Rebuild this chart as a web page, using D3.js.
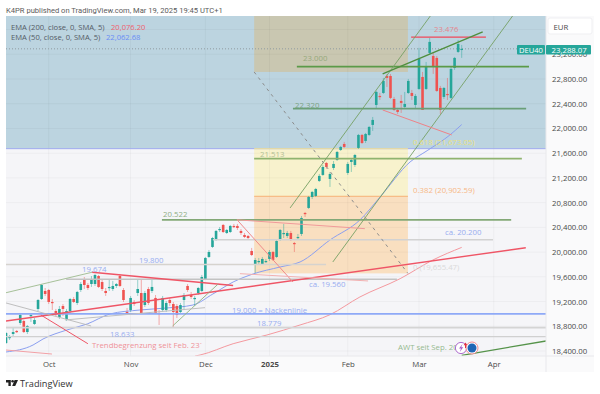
<!DOCTYPE html>
<html>
<head>
<meta charset="utf-8">
<script src="https://cdn.jsdelivr.net/npm/d3@7"></script>
<style>
html, body { margin: 0; padding: 0; background: #fff; }
text { font-family: "Open Sans", Roboto, sans-serif; }
</style>
</head>
<body>
<div id="chart"></div>
<script>
// candles, Sep 13 2024 to Mar 19 2025 (EUR)
var opens = [
  18529,18610,18675,18724,18853,18885,18707,18966,18837,19080,
  19241,19371,19387,19193,19047,18950,19128,18918,19047,19241,
  19177,19387,19549,19468,19484,19484,19613,19516,19371,19419,
  19403,19452,19613,19387,19031,19063,19193,19338,19338,19144,
  19403,19371,19258,19015,19063,19063,19225,19160,19128,19031,
  19225,19452,19306,19241,19338,19371,19565,19921,20083,20212,
  20358,20439,20309,20325,20423,20423,20342,20277,20261,20018,
  19808,19840,19808,19840,19889,20002,19921,20196,20293,20261,
  20309,20147,20228,20293,20633,20714,20892,20908,21151,21248,
  21442,21183,21361,21490,21652,21749,21280,21458,21409,21685,
  21895,21798,21895,22057,22380,22526,22574,22849,22849,22477,
  22299,22445,22348,22574,22574,22380,22639,22833,22639,23222,
  23173,23141,22655,22510,22558,22494,22979,23238,23270];
var highs = [
  18707,18659,18788,18740,19015,18902,18821,19015,18934,19241,
  19484,19419,19403,19241,19080,19128,19160,19080,19258,19274,
  19371,19516,19597,19500,19613,19646,19630,19565,19419,19549,
  19533,19500,19646,19419,19096,19290,19225,19549,19549,19371,
  19436,19549,19306,19063,19290,19209,19258,19193,19160,19177,
  19338,19484,19355,19290,19436,19630,19921,20034,20245,20358,
  20406,20455,20374,20439,20455,20455,20374,20309,20277,20067,
  19905,19905,19921,19889,20034,20018,20196,20374,20455,20342,
  20342,20164,20293,20584,20649,20908,20989,21038,21264,21409,
  21458,21296,21474,21636,21717,21782,21458,21506,21587,21911,
  21911,21927,22040,22186,22607,22574,22817,22881,22881,22510,
  22332,22542,22591,22801,22623,22558,23303,22914,23076,23465,
  23222,23173,22688,22671,22817,22995,23157,23432,23351];
var lows = [
  18513,18578,18643,18691,18821,18691,18675,18869,18821,19047,
  19225,19290,19160,19063,18966,18918,18966,18885,19015,19177,
  19144,19355,19403,19387,19436,19452,19419,19371,19290,19371,
  19371,19419,19436,19193,18982,19031,19128,19290,18999,19112,
  19144,19338,18999,18821,19031,19031,19128,18788,18934,18999,
  19063,19355,19241,19128,19306,19355,19549,19905,20067,20180,
  20325,20309,20293,20309,20390,20358,20277,20228,20212,19937,
  19662,19808,19791,19824,19856,19856,19905,20180,20228,20228,
  20180,20002,20196,20261,20568,20698,20859,20892,21134,21232,
  21345,21054,21329,21474,21636,21685,21248,21296,21377,21668,
  21749,21765,21879,21960,22316,22461,22558,22671,22477,22283,
  22234,22251,22332,22558,22461,22316,22623,22299,22623,23190,
  22882,22591,22235,22477,22461,22477,22947,23222,23141];
var closes = [
  18691,18627,18707,18707,18982,18707,18805,18982,18902,19225,
  19468,19322,19193,19177,18982,19080,19080,19047,19241,19193,
  19355,19484,19468,19419,19565,19630,19436,19403,19338,19436,
  19452,19484,19452,19225,19015,19258,19160,19403,19015,19338,
  19177,19436,19015,18999,19258,19177,19177,19031,18982,19144,
  19306,19387,19274,19258,19419,19597,19905,20002,20228,20342,
  20374,20325,20358,20423,20406,20390,20309,20245,20228,19953,
  19872,19856,19889,19856,20002,19872,20180,20358,20309,20309,
  20196,20131,20245,20552,20617,20892,20973,21021,21232,21377,
  21377,21264,21426,21620,21701,21701,21426,21490,21571,21895,
  21765,21911,22024,22138,22591,22510,22769,22817,22494,22299,
  22267,22413,22396,22769,22526,22526,23125,22299,22995,23400,
  22995,22607,22299,22655,22542,22963,23141,23367,23288.07];

// moving averages, sparse points [candle number, price]
var ema50 = [[0,18384],[7.6,18497],[10.4,18594],[17.1,18740],[22.8,18837],[29.2,18999],[37.6,19063],
  [45.2,19096],[52.5,19144],[58.1,19322],[63.8,19516],[69.4,19646],[77,19759],[82.6,19840],[91,20196],
  [99.4,20519],[105.1,20892],[113.5,21458],[118.3,21641],[124.7,21895],[128,22062.68]];
var ema200 = [[53.1,18319],[54.5,18335],[63.8,18518],[73.3,18659],[82.6,18821],[91,18987],
  [99.4,19274],[110.7,19570],[119.9,19872],[128,20076.2]];

// horizontal drawings
var levelNames = ["l23000","l22320","l21513","l20522","l23476","l20200","l19800","l19560","l19000","l18779","l18633"];
var levelPrices = [23000,22320,21513,20522,23476,20200,19800,19560,19000,18779,18633];
var levelFrom = [81.7,80.6,69.7,43.8,113.8,58.1,0,16.9,0,0,0];
var levelTo = [146.9,146.1,144.9,141.9,134.8,136.8,89.9,109.8,151.7,151.7,151.7];

// sloped drawings [candle number, price]
var trendNames = ["channelA","channelB","wedge","redBelow","trendRed","redTop","greenLeft","greyLeft","pointer",
  "paleLeft","greenHammer","greyMid","redDiag","paleA","paleB","fibDash","awt"];
var trendFrom = [[79.8,20714],[91.8,19840],[105.8,22882],[105.8,22299],[0,18885],[24.2,19674],[0,19343],[0,19177],[9.8,18982],
  [0,18416],[46.8,18805],[16.6,18902],[64.9,20522],[64.9,20522],[65.7,19651],[69.7,22914],[128,18330]];
var trendTo = [[119.2,23820],[142.3,23820],[133.9,23561],[125.2,21895],[146,20071],[63.8,19460],[24.2,19674],[23.9,18805],[23,18518],
  [12.9,18351],[59.6,19484],[55.9,19101],[80.6,19516],[100.8,20379],[101.7,19533],[112.9,19655],[151.7,18562]];

var fibLevels = [22914,21673.05,20902.59,19655.47];
var fibFrom = 69.7, fibTo = 112.9;

var priceTicks = [18400,18800,19200,19600,20000,20400,20800,21200,21600,22000,22400,22800,23200,23600];
var timeTicks = [12,35,56,74,96,116,137];
var timeLabels = ["Oct","Nov","Dec","2025","Feb","Mar","Apr"];
var lastPrice = 23288.07;

var levelColor = {l23000:"#5b9a48",l22320:"#6a9f78",l21513:"#8fb36f",l20522:"#83a877",l23476:"#f0485a",
  l20200:"#d2d2d2",l19800:"#d6d3ce",l19560:"#c3c3c3",l19000:"#8ea9f7",l18779:"#d4d4d4",l18633:"#d0d0d0"};
var levelWidth = {l23000:1.6,l22320:1.6,l21513:1.8,l20522:1.8,l23476:1.2,l20200:1.5,l19800:1.5,l19560:1.5,l19000:1.6,l18779:1.8,l18633:1.3};
var trendStyle = {
  channelA:["#76a064",0.9], channelB:["#76a064",0.9], wedge:["#4f8f3e",1.4], redBelow:["#ee8288",1],
  trendRed:["#ef5566",1.4], redTop:["#ef5566",1.4], greenLeft:["#9dba8d",0.9], greyLeft:["#b8b8b8",0.9],
  pointer:["#ef5566",1], paleLeft:["#f2a0a5",1], greenHammer:["#8fb37f",0.9], greyMid:["#c0c0c0",1],
  redDiag:["#f08a8a",1], paleA:["#f09a9a",1], paleB:["#f2b0b0",1], fibDash:["#8c8c8c",1], awt:["#55934a",1.3]
};

var width = 600, height = 394;
var plot = {left: 6, right: 546, top: 16, bottom: 356};

var svg = d3.select("#chart").append("svg")
    .attr("width", width).attr("height", height)
    .style("display", "block");

var x = d3.scaleLinear().domain([0, 128]).range([6, 461.7]);
var y = d3.scaleLinear().domain([18400, 22800]).range([351, 79]);

svg.append("defs").append("clipPath").attr("id", "plotClip").append("rect")
    .attr("x", plot.left).attr("y", plot.top)
    .attr("width", plot.right - plot.left).attr("height", plot.bottom - plot.top);

// title
svg.append("text").attr("x", 6).attr("y", 13)
    .attr("font-size", 7.6).attr("fill", "#5b5b5b")
    .style("font-family", "Roboto, sans-serif")
    .text("K4PR published on TradingView.com, Mar 19, 2025 19:45 UTC+1");

// panes
svg.append("rect").attr("x", plot.left).attr("y", plot.top)
    .attr("width", 588).attr("height", 356).attr("fill", "#f5f5f8");
svg.append("rect").attr("x", plot.right).attr("y", plot.top)
    .attr("width", 48).attr("height", 356).attr("fill", "#fafafb");
svg.append("rect").attr("x", plot.left).attr("y", plot.bottom)
    .attr("width", 588).attr("height", 16).attr("fill", "#fafafb");

var chart = svg.append("g").attr("clip-path", "url(#plotClip)");

// zones
chart.append("rect").attr("x", plot.left).attr("y", plot.top)
    .attr("width", plot.right - plot.left).attr("height", y(fibLevels[1]) - plot.top)
    .attr("fill", "#bcd4e0");
chart.append("rect").attr("x", x(fibFrom)).attr("y", plot.top)
    .attr("width", x(fibTo) - x(fibFrom)).attr("height", y(fibLevels[0]) - plot.top)
    .attr("fill", "#c9c7b1");
chart.append("rect").attr("x", x(fibFrom)).attr("y", y(fibLevels[1]))
    .attr("width", x(fibTo) - x(fibFrom)).attr("height", y(fibLevels[2]) - y(fibLevels[1]))
    .attr("fill", "#f8f2cd");
chart.append("rect").attr("x", x(fibFrom)).attr("y", y(fibLevels[2]))
    .attr("width", x(fibTo) - x(fibFrom)).attr("height", y(fibLevels[3]) - y(fibLevels[2]))
    .attr("fill", "#f9dfc0");

// grid
chart.selectAll("line.gh").data(priceTicks).enter().append("line")
    .attr("x1", plot.left).attr("x2", plot.right)
    .attr("y1", function(d){ return y(d); }).attr("y2", function(d){ return y(d); })
    .attr("stroke", "#000").attr("stroke-opacity", 0.035);
chart.selectAll("line.gv").data(timeTicks).enter().append("line")
    .attr("x1", function(d){ return x(d); }).attr("x2", function(d){ return x(d); })
    .attr("y1", plot.top).attr("y2", plot.bottom)
    .attr("stroke", "#000").attr("stroke-opacity", 0.035);

// fib borders
chart.append("line").attr("x1", plot.left).attr("x2", plot.right)
    .attr("y1", y(fibLevels[1])).attr("y2", y(fibLevels[1]))
    .attr("stroke", "#9fabef").attr("stroke-width", 1);
chart.append("line").attr("x1", x(fibFrom)).attr("x2", x(fibTo))
    .attr("y1", y(fibLevels[1])).attr("y2", y(fibLevels[1]))
    .attr("stroke", "#ecdf9b").attr("stroke-width", 1);
chart.append("line").attr("x1", x(fibFrom)).attr("x2", x(fibTo))
    .attr("y1", y(fibLevels[2])).attr("y2", y(fibLevels[2]))
    .attr("stroke", "#f6b175").attr("stroke-width", 1);

// last price dotted line
chart.append("line").attr("x1", plot.left).attr("x2", plot.right)
    .attr("y1", y(lastPrice)).attr("y2", y(lastPrice))
    .attr("stroke", "#8f9aa0").attr("stroke-dasharray", "1,2");

// emas
var emaLine = d3.line()
    .x(function(d){ return x(d[0]); })
    .y(function(d){ return y(d[1]); })
    .curve(d3.curveMonotoneX);
chart.append("path").attr("d", emaLine(ema200)).attr("fill", "none")
    .attr("stroke", "#f4999f").attr("stroke-width", 1);
chart.append("path").attr("d", emaLine(ema50)).attr("fill", "none")
    .attr("stroke", "#8b9ff0").attr("stroke-width", 1);

// candles
var candles = chart.selectAll("g.candle").data(opens).enter().append("g");
function candleColor(d, i) { return closes[i] >= opens[i] ? "#26a69a" : "#ef5350"; }
candles.append("line")
    .attr("x1", function(d, i){ return x(i); }).attr("x2", function(d, i){ return x(i); })
    .attr("y1", function(d, i){ return y(highs[i]); }).attr("y2", function(d, i){ return y(lows[i]); })
    .attr("stroke", candleColor).attr("stroke-opacity", 0.6).attr("stroke-width", 0.8);
candles.append("rect")
    .attr("x", function(d, i){ return x(i) - 1.3; })
    .attr("width", 2.6)
    .attr("y", function(d, i){ return y(Math.max(opens[i], closes[i])); })
    .attr("height", function(d, i){ return Math.max(1.2, Math.abs(y(opens[i]) - y(closes[i]))); })
    .attr("fill", candleColor);

// drawings
chart.selectAll("line.level").data(levelNames).enter().append("line")
    .attr("x1", function(d, i){ return x(levelFrom[i]); })
    .attr("x2", function(d, i){ return x(levelTo[i]); })
    .attr("y1", function(d, i){ return y(levelPrices[i]); })
    .attr("y2", function(d, i){ return y(levelPrices[i]); })
    .attr("stroke", function(d){ return levelColor[d]; })
    .attr("stroke-width", function(d){ return levelWidth[d]; });

chart.selectAll("line.trend").data(trendNames).enter().append("line")
    .attr("x1", function(d, i){ return x(trendFrom[i][0]); })
    .attr("y1", function(d, i){ return y(trendFrom[i][1]); })
    .attr("x2", function(d, i){ return x(trendTo[i][0]); })
    .attr("y2", function(d, i){ return y(trendTo[i][1]); })
    .attr("stroke", function(d){ return trendStyle[d][0]; })
    .attr("stroke-width", function(d){ return trendStyle[d][1]; })
    .attr("stroke-dasharray", function(d){ return d == "fibDash" ? "3,4" : null; });

// labels on the chart
var labels = [
  ["23.000", 303, 60.5, "#96a97c"], ["22.320", 295, 107.5, "#7ba384"], ["21.513", 260, 156.5, "#b2c094"],
  ["20.522", 163, 216.5, "#8fae85"], ["23.476", 434, 31.5, "#e5868f"], ["19.800", 139, 262.5, "#98adf0"],
  ["19.674", 82, 271.5, "#98adf0"], ["18.633", 110, 336.5, "#98adf0"], ["18.779", 257, 326, "#98adf0"],
  ["ca. 20.200", 445, 235, "#98adf0"], ["ca. 19.560", 309, 287, "#98adf0"],
  ["19.000 = Nackenlinie", 232, 312.5, "#98adf0"], ["Trendbegrenzung seit Feb. 23´", 92, 347.5, "#ef9298"],
  ["AWT seit Sep. 20", 398, 349.5, "#96ba8f"],
  ["0.618 (21,673.05)", 413, 145, "#ebe27c"], ["0.382 (20,902.59)", 413, 193, "#f7b885"], ["0 (19,655.47)", 413, 270, "#dadada"]
];
svg.selectAll("text.lab").data(labels).enter().append("text")
    .attr("x", function(d){ return d[1]; }).attr("y", function(d){ return d[2]; })
    .attr("fill", function(d){ return d[3]; })
    .attr("font-size", 7.8)
    .text(function(d){ return d[0]; });

// event badges
svg.append("circle").attr("cx", 461).attr("cy", 348).attr("r", 5.6)
    .attr("fill", "#fff").attr("stroke", "#a65cc8").attr("stroke-width", 0.9);
svg.append("path").attr("d", "M462.5 344L459 348.6H461L459.8 352L463.2 347.2H461.2Z").attr("fill", "#a65cc8");
svg.append("circle").attr("cx", 472).attr("cy", 348).attr("r", 6)
    .attr("fill", "#fff").attr("stroke", "#ef7f85").attr("stroke-width", 0.9);
svg.append("circle").attr("cx", 472).attr("cy", 348).attr("r", 4.5).attr("fill", "#1f66b5");
svg.append("path").attr("d", "M465.5 342.5L463.6 345.2H465V348H466V345.2H467.4Z").attr("fill", "#e2323f");

// legend
var legendRows = [["EMA (200, close, 0, SMA, 5)", "20,076.20", "#f0606e", 111, 30],
                  ["EMA (50, close, 0, SMA, 5)", "22,062.68", "#6a8df5", 106, 40]];
legendRows.forEach(function(r) {
  svg.append("text").attr("x", 11).attr("y", r[4]).attr("font-size", 7.6).attr("fill", "#555c66").text(r[0]);
  svg.append("text").attr("x", r[3]).attr("y", r[4]).attr("font-size", 7.6).attr("fill", r[2]).text(r[1]);
});

// price axis, the top tick sits behind the currency box so it gets no label
var priceAxis = d3.axisRight(y).tickValues(priceTicks.slice(0, -1)).tickSize(0).tickPadding(6)
    .tickFormat(d3.format(",.2f"));
var pa = svg.append("g").attr("transform", "translate(" + plot.right + ",0)").call(priceAxis);
pa.select(".domain").remove();
pa.selectAll("text").attr("font-size", 7.8).attr("fill", "#4a4a4a")
    .style("font-family", '"Open Sans", Roboto, sans-serif');

// time axis
var timeAxis = d3.axisBottom(x).tickValues(timeTicks).tickSize(0).tickPadding(5)
    .tickFormat(function(d, i){ return timeLabels[i]; });
var ta = svg.append("g").attr("transform", "translate(0," + plot.bottom + ")").call(timeAxis);
ta.select(".domain").remove();
ta.selectAll("text").attr("font-size", 7.8).attr("fill", "#4a4a4a")
    .style("font-family", '"Open Sans", Roboto, sans-serif')
    .attr("font-weight", function(d, i){ return timeLabels[i] == "2025" ? "bold" : null; });

// axis separators
svg.append("line").attr("x1", plot.right).attr("x2", plot.right).attr("y1", plot.top).attr("y2", 372)
    .attr("stroke", "#e8e8ec");
svg.append("line").attr("x1", plot.left).attr("x2", 594).attr("y1", plot.bottom).attr("y2", plot.bottom)
    .attr("stroke", "#e8e8ec");

// currency box
svg.append("rect").attr("x", 548).attr("y", 18).attr("width", 44).attr("height", 16).attr("rx", 2)
    .attr("fill", "#fff").attr("stroke", "#efeff2");
svg.append("text").attr("x", 553.5).attr("y", 29.5).attr("font-size", 7.8).attr("fill", "#4a4a4a").text("EUR");

// last price tag
svg.append("rect").attr("x", 517).attr("y", 45).attr("width", 28).attr("height", 9.5).attr("rx", 1).attr("fill", "#26a69a");
svg.append("text").attr("x", 531).attr("y", 52.6).attr("text-anchor", "middle").attr("font-size", 7.6).attr("fill", "#fff").text("DEU40");
svg.append("rect").attr("x", 546).attr("y", 45).attr("width", 45).attr("height", 9.5).attr("rx", 1).attr("fill", "#26a69a");
svg.append("text").attr("x", 551.5).attr("y", 52.6).attr("font-size", 7.8).attr("fill", "#fff").text(d3.format(",.2f")(lastPrice));

// footer
var logo = svg.append("g").attr("transform", "translate(6,380)").attr("fill", "#222");
logo.append("path").attr("d", "M0 0H4.8V6H2.4V2.4H0Z");
logo.append("circle").attr("cx", 6.6).attr("cy", 1.3).attr("r", 1.3);
logo.append("path").attr("d", "M8.6 0H12L9.2 6H6.2Z");
svg.append("text").attr("x", 20).attr("y", 387).attr("font-size", 9.2).attr("fill", "#333").text("TradingView");
</script>
</body>
</html>
